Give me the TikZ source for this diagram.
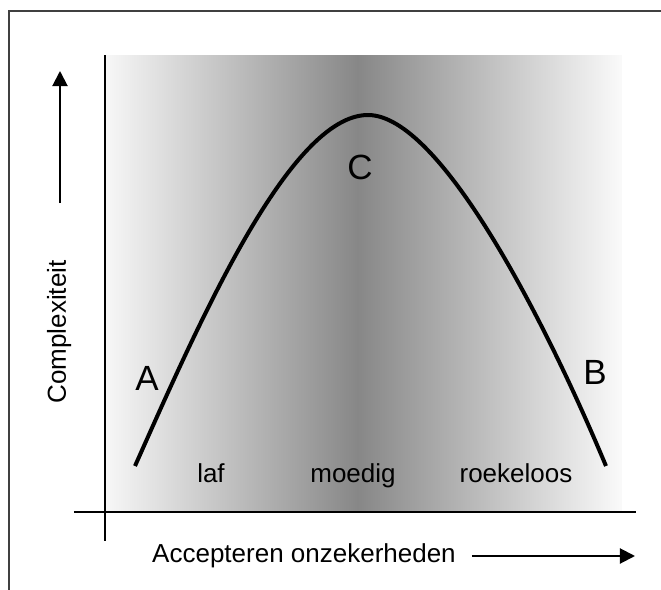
\documentclass[tikz,border=0pt]{standalone}
\usepackage{fontspec}
\setmainfont{Liberation Sans}
\usetikzlibrary{arrows.meta}

\begin{document}
\begin{tikzpicture}[x=0.5pt,y=-0.5pt,
        lbl/.style={font=\fontsize{13}{15}\selectfont,anchor=base,inner sep=0pt},
        pnt/.style={font=\fontsize{17.5}{20}\selectfont,anchor=base,inner sep=0pt},
        pijl/.style={line width=1pt,-{Triangle[width=7.5pt,length=7.5pt]}}]
        \useasboundingbox (0,0) rectangle (661,590);
        % achtergrond
        \shade[left color=white!97!black,right color=black!47!white] (105,55) rectangle (358,512);
        \shade[left color=black!47!white,right color=white!98!black] (358,55) rectangle (622,512);
        \draw[line width=0.75pt,black!75] (9,590) -- (9,11) -- (661,11);
        % assen
        \coordinate (ytop) at (105,55);
        \coordinate (ybot) at (105,541);
        \coordinate (xlinks) at (74,512);
        \coordinate (xrechts) at (636,512);
        \draw[line width=0.75pt] (ytop) -- (ybot);
        \draw[line width=0.75pt] (xlinks) -- (xrechts);
        \coordinate (pv1) at (60,203);
        \coordinate (pv2) at (60,71);
        \draw[pijl] (pv1) -- (pv2);
        \coordinate (ph1) at (472,556);
        \coordinate (ph2) at (635,556);
        \draw[pijl] (ph1) -- (ph2);
        \node[lbl,rotate=90] (complex) at (66,332) {Complexiteit};
        \node[lbl] (accept) at (304,562) {Accepteren onzekerheden};
        % curve
        \coordinate (start) at (135,466);
        \coordinate (top) at (368,115);
        \coordinate (eind) at (606,466);
        \draw[line width=2pt] (start) .. controls (200,320) and (290,115) .. (top)
            .. controls (440,115) and (545,320) .. (eind);
        \node[pnt] (A) at (147,390) {A};
        \node[pnt] (B) at (595,384) {B};
        \node[pnt] (C) at (360,179) {C};
        \node[lbl] (laf) at (211,482) {laf};
        \node[lbl] (moedig) at (353,482) {moedig};
        \node[lbl] (roekeloos) at (516,482) {roekeloos};
    \end{tikzpicture}
\end{document}
